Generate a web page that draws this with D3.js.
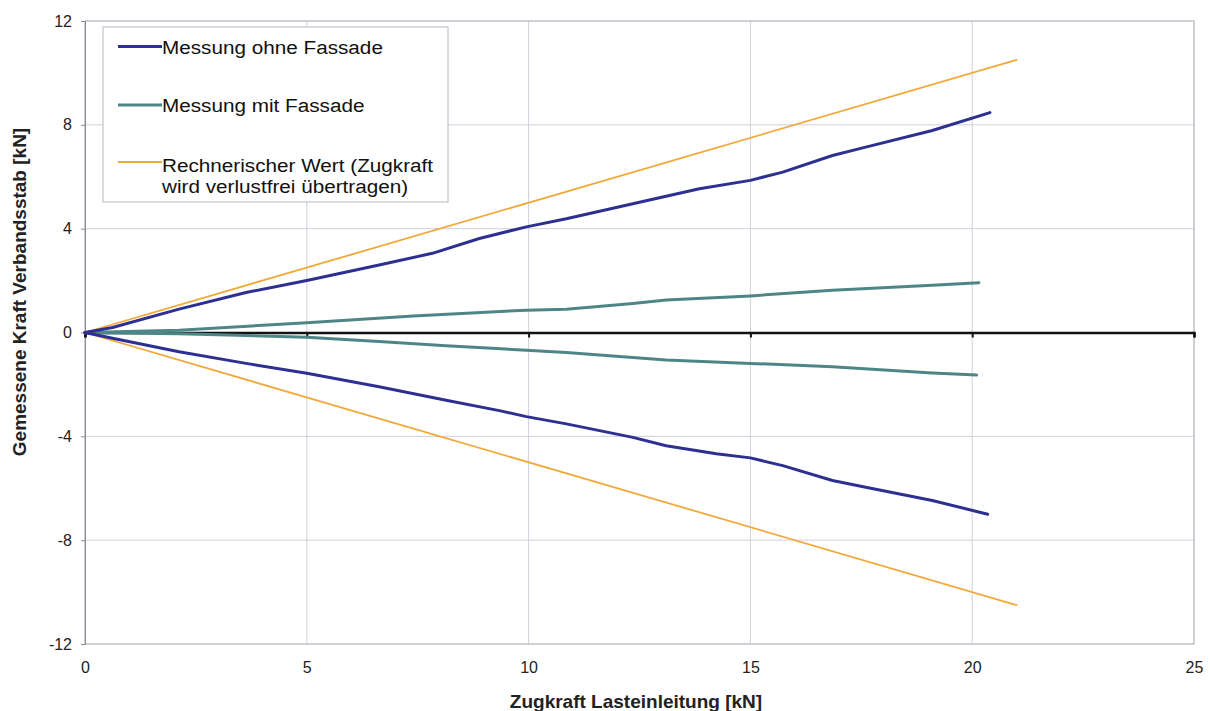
<!DOCTYPE html>
<html>
<head>
<meta charset="utf-8">
<script src="https://cdn.jsdelivr.net/npm/d3@7"></script>
<style>
  body { margin: 0; background: #fff; }
  svg { display: block; font-family: "Liberation Sans", Arial, sans-serif; }
</style>
</head>
<body>
<svg></svg>
<script>
// Zugkraft Lasteinleitung [kN] vs. gemessene Kraft [kN]
let ohneOben_x = [0, 0.62, 2.12, 3.63, 5, 6.63, 7.83, 8.89, 9.95, 10.85, 12.35, 13.85, 15, 15.73, 16.85, 17.6, 19.1, 20.4];
let ohneOben_y = [0, 0.19, 0.9, 1.54, 2.0, 2.6, 3.05, 3.62, 4.07, 4.38, 4.96, 5.54, 5.86, 6.18, 6.82, 7.14, 7.78, 8.47];

let ohneUnten_x = [0, 0.62, 2.12, 3.63, 5, 6.63, 8.14, 9.34, 9.95, 10.85, 12.35, 13.1, 14.23, 15, 15.73, 16.85, 17.6, 19.1, 20.35];
let ohneUnten_y = [0, -0.22, -0.74, -1.19, -1.57, -2.09, -2.61, -3.01, -3.24, -3.52, -4.04, -4.36, -4.67, -4.83, -5.13, -5.7, -5.96, -6.47, -7.0];

let mitOben_x = [0, 2.12, 5, 7.4, 9.95, 10.85, 12.35, 13.1, 15, 16.85, 19.1, 20.15];
let mitOben_y = [0, 0.09, 0.38, 0.64, 0.86, 0.9, 1.12, 1.25, 1.41, 1.63, 1.82, 1.92];

let mitUnten_x = [0, 2.12, 5, 6.63, 8.14, 9.95, 10.85, 12.35, 13.1, 15, 16.85, 19.1, 20.1];
let mitUnten_y = [0, -0.05, -0.18, -0.35, -0.51, -0.68, -0.77, -0.96, -1.06, -1.19, -1.32, -1.56, -1.64];

let rechOben_x = [0, 21];
let rechOben_y = [0, 10.5];
let rechUnten_x = [0, 21];
let rechUnten_y = [0, -10.5];

let xTicks = [0, 5, 10, 15, 20, 25];
let yTicks = [-12, -8, -4, 0, 4, 8, 12];

let legendLabels = [["Messung ohne Fassade"], ["Messung mit Fassade"], ["Rechnerischer Wert (Zugkraft", "wird verlustfrei übertragen)"]];

let width = 1210;
let height = 711;
let plotLeft = 85, plotRight = 1194, plotTop = 21, plotBottom = 644;

let blue = "#2d3090";
let teal = "#4e8688";
let orange = "#f2a93b";

let svg = d3.select("svg").attr("width", width).attr("height", height);

let xScale = d3.scaleLinear().domain([0, 25]).range([plotLeft, plotRight]);
let yScale = d3.scaleLinear().domain([-12, 12]).range([plotBottom, plotTop]);

let zip = (xs, ys) => xs.map((x, i) => [x, ys[i]]);

// gridlines
svg.append("g")
   .selectAll("line")
   .data(xTicks)
   .enter()
   .append("line")
   .attr("x1", d => xScale(d)).attr("x2", d => xScale(d))
   .attr("y1", plotTop).attr("y2", plotBottom)
   .attr("stroke", "#cfd0dc").attr("stroke-width", 1);

svg.append("g")
   .selectAll("line")
   .data(yTicks)
   .enter()
   .append("line")
   .attr("x1", plotLeft).attr("x2", plotRight)
   .attr("y1", d => yScale(d)).attr("y2", d => yScale(d))
   .attr("stroke", "#cfd0dc").attr("stroke-width", 1);

// plot border
svg.append("rect")
   .attr("x", plotLeft).attr("y", plotTop)
   .attr("width", plotRight - plotLeft).attr("height", plotBottom - plotTop)
   .attr("fill", "none").attr("stroke", "#b8b8c0").attr("stroke-width", 1);

// y axis with labels
let yAxis = d3.axisLeft(yScale).tickValues(yTicks).tickSize(4).tickPadding(9).tickFormat(d => String(d));
let gy = svg.append("g").attr("transform", "translate(" + plotLeft + ",0)").call(yAxis);
gy.select(".domain").attr("stroke", "#8a8a94");
gy.selectAll(".tick line").attr("stroke", "#8a8a94");
gy.selectAll("text").attr("font-size", 16).attr("fill", "#222").attr("font-family", "Liberation Sans, Arial, sans-serif");

// x tick labels at bottom
let xAxis = d3.axisBottom(xScale).tickValues(xTicks).tickSize(0).tickPadding(18).tickFormat(d => String(d));
let gx = svg.append("g").attr("transform", "translate(0," + plotBottom + ")").call(xAxis);
gx.select(".domain").remove();
gx.selectAll("text").attr("font-size", 16).attr("fill", "#222").attr("font-family", "Liberation Sans, Arial, sans-serif");

// black axis line crossing at 0
let zeroAxis = d3.axisBottom(xScale).tickValues(xTicks).tickSize(5).tickFormat("");
let gz = svg.append("g").attr("transform", "translate(0," + yScale(0) + ")").call(zeroAxis);
gz.select(".domain").attr("stroke", "#111").attr("stroke-width", 2.5);
gz.selectAll(".tick line").attr("stroke", "#111").attr("stroke-width", 2);

let line = d3.line().x(d => xScale(d[0])).y(d => yScale(d[1]));

let series = [
  { pts: zip(mitOben_x, mitOben_y), color: teal, w: 3 },
  { pts: zip(mitUnten_x, mitUnten_y), color: teal, w: 3 },
  { pts: zip(rechOben_x, rechOben_y), color: orange, w: 1.8 },
  { pts: zip(rechUnten_x, rechUnten_y), color: orange, w: 1.8 },
  { pts: zip(ohneOben_x, ohneOben_y), color: blue, w: 3 },
  { pts: zip(ohneUnten_x, ohneUnten_y), color: blue, w: 3 }
];

svg.append("g")
   .selectAll("path")
   .data(series)
   .enter()
   .append("path")
   .attr("d", d => line(d.pts))
   .attr("fill", "none")
   .attr("stroke", d => d.color)
   .attr("stroke-width", d => d.w)
   .attr("stroke-linejoin", "round")
   .attr("stroke-linecap", "round");

// legend
let legend = svg.append("g");
legend.append("rect")
      .attr("x", 103).attr("y", 27).attr("width", 345).attr("height", 175)
      .attr("fill", "#fff").attr("stroke", "#b8b8c0").attr("stroke-width", 1);

let legendColors = [blue, teal, orange];
let legendWidths = [3, 3, 1.8];
let legendLineY = [46.5, 105, 162];
let legendTextY = [53.5, 112, 171.5];

legendLabels.forEach((lines, i) => {
  legend.append("line")
        .attr("x1", 118).attr("x2", 162)
        .attr("y1", legendLineY[i]).attr("y2", legendLineY[i])
        .attr("stroke", legendColors[i]).attr("stroke-width", legendWidths[i]);
  lines.forEach((t, j) => {
    legend.append("text")
          .attr("transform", "translate(162," + (legendTextY[i] + j * 21.5) + ") scale(1.09,1)")
          .attr("font-size", 19).attr("fill", "#111")
          .text(t);
  });
});

// axis titles
svg.append("text")
   .attr("x", 636).attr("y", 708)
   .attr("text-anchor", "middle")
   .attr("font-size", 19).attr("font-weight", "bold").attr("fill", "#222")
   .text("Zugkraft Lasteinleitung [kN]");

svg.append("text")
   .attr("transform", "translate(26,292) rotate(-90)")
   .attr("text-anchor", "middle")
   .attr("font-size", 19).attr("font-weight", "bold").attr("fill", "#222")
   .text("Gemessene Kraft Verbandsstab [kN]");
</script>
</body>
</html>
